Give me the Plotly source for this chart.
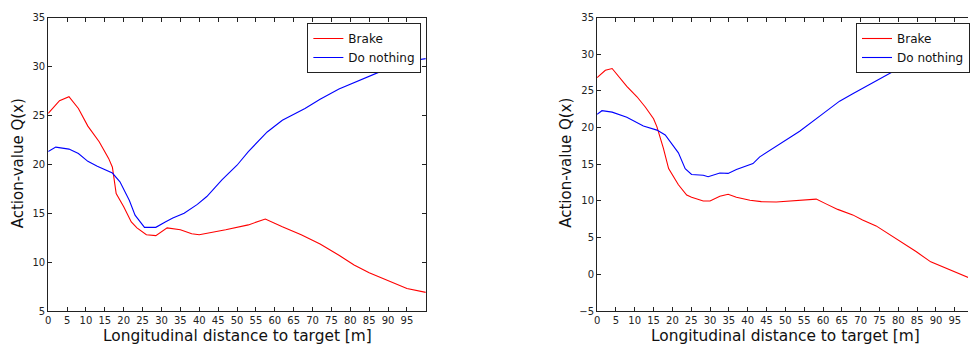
import plotly.graph_objects as go

# ---- data ----
left_brake_x = [0, 3, 5.5, 8, 10.5, 13.5, 16, 17, 18, 20, 22, 23.5, 26, 28.5, 31.5, 35, 38, 40,
                47, 53, 57.5, 62, 67, 72, 77, 81, 85, 90, 95, 100]
left_brake_y = [25.2, 26.5, 26.9, 25.7, 23.9, 22.3, 20.6, 19.7, 17.0, 15.65, 14.1, 13.5, 12.8, 12.7,
                13.5, 13.3, 12.9, 12.8, 13.3, 13.8, 14.4, 13.6, 12.8, 11.85, 10.7, 9.7, 8.9, 8.06, 7.3, 6.9]

left_nothing_x = [0, 2, 5.5, 8, 10.5, 13, 17, 19, 21.5, 23, 25.5, 28.5, 31, 33, 36, 39.5, 42, 46,
                  50, 53, 58, 62, 68, 72, 77, 85, 90, 95, 100]
left_nothing_y = [21.3, 21.75, 21.55, 21.1, 20.3, 19.8, 19.1, 18.2, 16.3, 14.8, 13.55, 13.55, 14.1,
                  14.5, 15.0, 15.9, 16.7, 18.4, 19.9, 21.3, 23.3, 24.5, 25.7, 26.65, 27.7, 29.0,
                  29.8, 30.5, 30.8]

right_brake_x = [0, 2.2, 4, 6.2, 7.9, 10.6, 12.8, 15, 15.9, 17.6, 19, 21.6, 23.8, 25.1, 28.2, 30,
                 32.6, 34.8, 37, 40.6, 43.6, 47.6, 52.9, 58.2, 60.8, 63.9, 67.9, 70.5, 74.1, 77.2,
                 79.4, 84.7, 88.6, 93.5, 98.3, 100]
right_brake_y = [26.8, 27.8, 28.05, 26.6, 25.6, 24.2, 22.8, 21.2, 20.1, 17.2, 14.4, 12.2, 10.8, 10.5,
                 10.0, 10.0, 10.65, 10.9, 10.5, 10.1, 9.9, 9.85, 10.0, 10.25, 9.6, 8.85, 8.1, 7.4,
                 6.6, 5.6, 4.8, 3.1, 1.7, 0.67, -0.4, -0.75]

right_nothing_x = [0, 1.3, 4, 7.9, 12.3, 15.9, 18.1, 19.4, 21.6, 23.4, 25.1, 28.2, 29.5, 32.6, 34.8,
                   37, 41.4, 43.2, 48.5, 53.8, 60, 64.4, 67.9, 73.6, 78.5, 84.7, 90, 95, 100]
right_nothing_y = [21.8, 22.3, 22.1, 21.4, 20.2, 19.65, 19.0, 18.05, 16.55, 14.4, 13.6, 13.5, 13.3,
                   13.8, 13.75, 14.3, 15.1, 16.0, 17.8, 19.5, 21.9, 23.6, 24.6, 26.2, 27.6, 28.8,
                   29.8, 30.7, 31.5]

x_ticks = list(range(0, 100, 5))
left_y_ticks = list(range(5, 40, 5))
right_y_ticks = list(range(-5, 40, 5))
series_names = ["Brake", "Do nothing"]
x_title = "Longitudinal distance to target [m]"
y_title = "Action-value Q(x)"

FONT = "DejaVu Sans"
W, H = 970, 344

fig = go.Figure()
fig.add_trace(go.Scatter(x=left_brake_x, y=left_brake_y, mode="lines", name=series_names[0],
                         line=dict(color="#ff0000", width=1.1), xaxis="x", yaxis="y", legend="legend"))
fig.add_trace(go.Scatter(x=left_nothing_x, y=left_nothing_y, mode="lines", name=series_names[1],
                         line=dict(color="#0000ff", width=1.1), xaxis="x", yaxis="y", legend="legend"))
fig.add_trace(go.Scatter(x=right_brake_x, y=right_brake_y, mode="lines", name=series_names[0],
                         line=dict(color="#ff0000", width=1.1), xaxis="x2", yaxis="y2", legend="legend2"))
fig.add_trace(go.Scatter(x=right_nothing_x, y=right_nothing_y, mode="lines", name=series_names[1],
                         line=dict(color="#0000ff", width=1.1), xaxis="x2", yaxis="y2", legend="legend2"))

ydom = [(H - 311) / H, (H - 17.5) / H]
axis_common = dict(showline=True, linecolor="#222", linewidth=1, ticks="inside", ticklen=4,
                   tickcolor="#222", tickwidth=1, showgrid=False, zeroline=False,
                   tickfont=dict(family=FONT, size=10, color="#222"), automargin=False)

legend_common = dict(bgcolor="white", bordercolor="#222", borderwidth=1,
                     font=dict(family=FONT, size=12, color="#111"), xanchor="left", yanchor="top",
                     tracegroupgap=0)

fig.update_layout(
    width=W, height=H, autosize=False,
    margin=dict(l=0, r=0, t=0, b=0),
    paper_bgcolor="white", plot_bgcolor="white",
    xaxis=dict(domain=[48.3 / W, 426.7 / W], range=[0, 100], tickvals=x_ticks, mirror="ticks",
               anchor="y", **axis_common),
    yaxis=dict(domain=ydom, range=[5, 35], tickvals=left_y_ticks, mirror="ticks", anchor="x",
               **axis_common),
    xaxis2=dict(domain=[598.3 / W, 1.0], range=[0, 98.5], tickvals=x_ticks, mirror="ticks",
                anchor="y2", **axis_common),
    yaxis2=dict(domain=ydom, range=[-5, 35], tickvals=right_y_ticks, mirror=False, anchor="x2",
                **axis_common),
    legend=dict(x=308 / W, y=(H - 23) / H, **legend_common),
    legend2=dict(x=858 / W, y=(H - 23) / H, **legend_common),
    showlegend=True,
)

annots = [
    dict(text=x_title, x=(48.3 + 426.7) / 2 / W, y=(H - 336.3) / H, size=15.4),
    dict(text=x_title, x=(598.3 + 975.7) / 2 / W, y=(H - 336.3) / H, size=15.4),
    dict(text=y_title, x=18.3 / W, y=(H - 163) / H, textangle=-90, size=15),
    dict(text=y_title, x=567 / W, y=(H - 163) / H, textangle=-90, size=15),
]
for a in annots:
    size = a.pop("size")
    fig.add_annotation(xref="paper", yref="paper", showarrow=False, xanchor="center",
                       yanchor="middle", font=dict(family=FONT, size=size, color="#111"), **a)

fig.write_html("out.html")
